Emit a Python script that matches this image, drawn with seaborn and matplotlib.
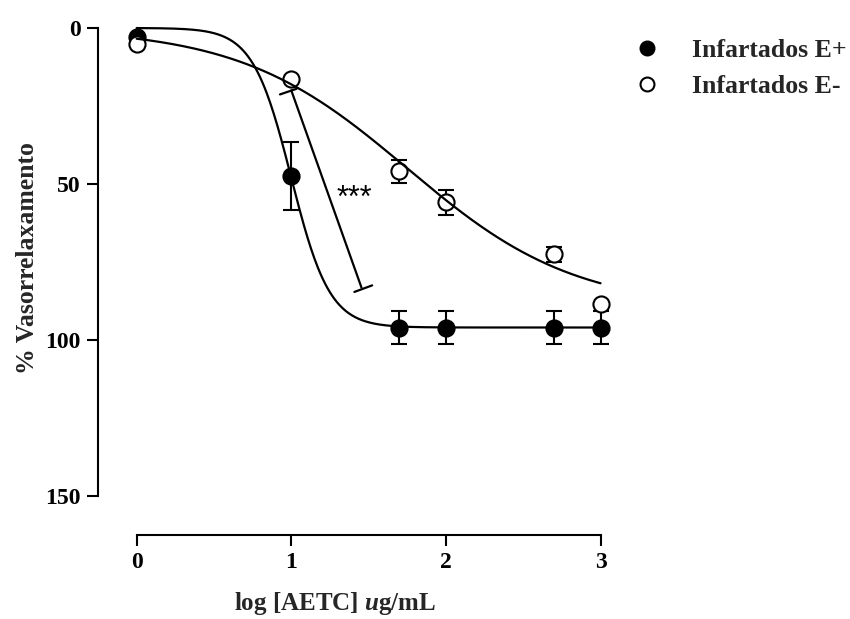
import numpy as np
import pandas as pd
import matplotlib
matplotlib.use("Agg")
import matplotlib.pyplot as plt
import seaborn as sns
from matplotlib.lines import Line2D

# ---- data ----
log_conc = [0, 1, 1.699, 2, 2.699, 3]
series_names = ["Infartados E+", "Infartados E-"]
e_plus = [3, 47.5, 96, 96, 96, 96]
e_plus_err = [0, 11, 5.3, 5.3, 5.3, 5.3]
e_minus = [5, 16.5, 46, 55.8, 72.6, 88.5]
e_minus_err = [0, 0, 3.6, 4.0, 2.3, 0]
# fitted sigmoid parameters: top, bottom, logEC50, hill slope
fit_plus = [0, 96, 1.0, 3.5]
fit_minus = [0, 90, 1.75, 0.8]
x_ticks = [0, 1, 2, 3]
y_ticks = [0, 50, 100, 150]


def hill(x, top, bottom, c, h):
    return top + (bottom - top) / (1 + 10 ** ((c - x) * h))


sns.set_theme(style="white")
plt.rcParams["font.family"] = ["Liberation Serif", "DejaVu Serif"]
plt.rcParams["font.weight"] = "bold"
plt.rcParams["mathtext.fontset"] = "custom"
plt.rcParams["mathtext.rm"] = "Liberation Serif:bold"
plt.rcParams["mathtext.it"] = "Liberation Serif:italic:bold"
plt.rcParams["mathtext.bf"] = "Liberation Serif:bold"

W, H = 850, 619
fig = plt.figure(figsize=(W / 100, H / 100), dpi=100)
ax_l, ax_r, ax_t, ax_b = 98, 616, 18.6, 535
ax = fig.add_axes([ax_l / W, (H - ax_b) / H, (ax_r - ax_l) / W, (ax_b - ax_t) / H])

xs = np.linspace(0, 3, 400)
curves = pd.DataFrame({
    "x": np.concatenate([xs, xs]),
    "y": np.concatenate([hill(xs, *fit_plus), hill(xs, *fit_minus)]),
    "serie": [series_names[0]] * len(xs) + [series_names[1]] * len(xs),
})

# error bars
ax.errorbar(log_conc, e_plus, yerr=e_plus_err, fmt="none", ecolor="black",
            elinewidth=1.5, capsize=5.7, capthick=1.5, zorder=2)
ax.errorbar(log_conc, e_minus, yerr=e_minus_err, fmt="none", ecolor="black",
            elinewidth=1.5, capsize=5.7, capthick=1.5, zorder=2)

pts = pd.DataFrame({"x": log_conc, "plus": e_plus, "minus": e_minus})
sns.scatterplot(data=pts, x="x", y="plus", ax=ax, marker="o", s=135,
                color="black", edgecolor="black", linewidth=1.5, zorder=3,
                legend=False, clip_on=False)
sns.scatterplot(data=pts, x="x", y="minus", ax=ax, marker="o", s=135,
                color="white", edgecolor="black", linewidth=1.5, zorder=4,
                legend=False, clip_on=False)

sns.lineplot(data=curves, x="x", y="y", units="serie", estimator=None,
             color="black", linewidth=1.6, ax=ax, legend=False, zorder=5)

# significance bracket
ax.plot([1.0, 1.454], [20.0, 83.2], color="black", lw=1.6, zorder=5)
ax.plot([0.927, 1.034], [21.3, 19.5], color="black", lw=1.6, zorder=5)
ax.plot([1.408, 1.523], [84.6, 82.5], color="black", lw=1.6, zorder=5)
ax.text(1.41, 57.5, "***", family="Liberation Sans", fontweight="normal",
        fontsize=22, ha="center", va="baseline", color="black")

ax.set_xlim(-0.25, 3.1)
ax.set_ylim(162.5, -3)
ax.set_xticks(x_ticks)
ax.set_xticklabels([str(t) for t in x_ticks])
ax.set_yticks(y_ticks)
ax.set_yticklabels([str(t) for t in y_ticks])
ax.spines["top"].set_visible(False)
ax.spines["right"].set_visible(False)
for s in ["left", "bottom"]:
    ax.spines[s].set_linewidth(1.5)
    ax.spines[s].set_color("black")
ax.spines["bottom"].set_bounds(0, 3)
ax.spines["left"].set_bounds(0, 150)
ax.tick_params(axis="both", direction="out", length=8, width=1.5,
               color="black", labelsize=17, labelcolor="black", pad=4.3,
               bottom=True, left=True)
for lab in ax.get_xticklabels() + ax.get_yticklabels():
    lab.set_fontweight("bold")

ax_w, ax_h = ax_r - ax_l, ax_b - ax_t
ax.set_xlabel(r"log [AETC] $\mathit{u}$g/mL", fontsize=18, fontweight="bold")
ax.xaxis.set_label_coords((335 - ax_l) / ax_w, (ax_b - 590) / ax_h)
ax.set_ylabel("% Vasorrelaxamento", fontsize=18.5, fontweight="bold")
ax.yaxis.set_label_coords((38.5 - ax_l) / ax_w, (ax_b - 258.5) / ax_h)

handles = [
    Line2D([], [], marker="o", linestyle="none", markersize=10,
           markerfacecolor="black", markeredgecolor="black", markeredgewidth=1.5),
    Line2D([], [], marker="o", linestyle="none", markersize=10,
           markerfacecolor="white", markeredgecolor="black", markeredgewidth=1.5),
]
leg = fig.legend(handles, series_names, loc="upper left",
                 bbox_to_anchor=(634 / W, 1 - 39 / H), frameon=False,
                 prop={"family": "Liberation Serif", "weight": "bold", "size": 18.5},
                 handlelength=1.0, handletextpad=1.26, labelspacing=0.52,
                 borderpad=0, borderaxespad=0)

fig.savefig("out.png", dpi=100)
